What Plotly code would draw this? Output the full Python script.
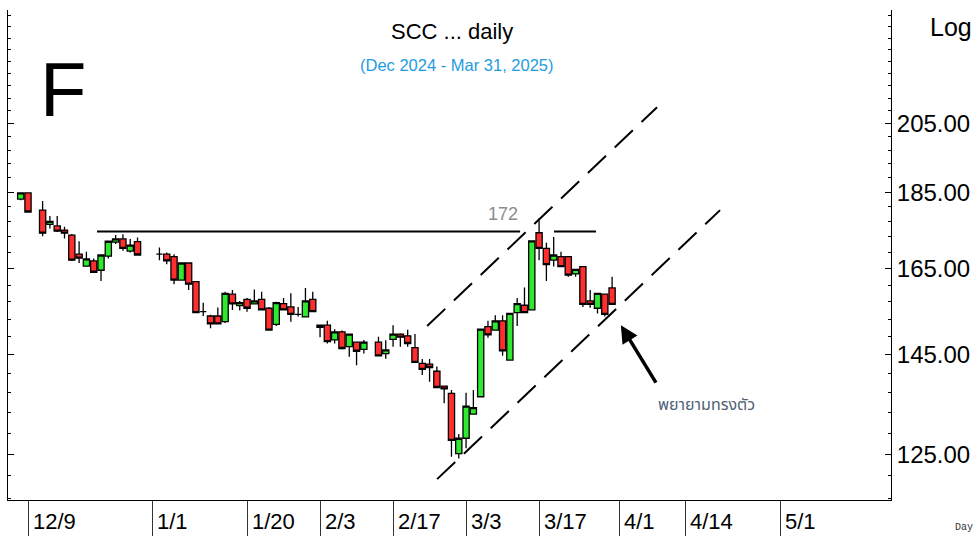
import numpy as np
import plotly.graph_objects as go

# ---------------- data ----------------
dates = ["2024-12-06", "2024-12-09", "2024-12-11", "2024-12-12", "2024-12-13", "2024-12-16",
         "2024-12-17", "2024-12-18", "2024-12-19", "2024-12-20", "2024-12-23", "2024-12-24",
         "2024-12-25", "2024-12-26", "2024-12-27", "2024-12-30", "2025-01-02", "2025-01-03",
         "2025-01-06", "2025-01-07", "2025-01-08", "2025-01-09", "2025-01-10", "2025-01-13",
         "2025-01-14", "2025-01-15", "2025-01-16", "2025-01-17", "2025-01-20", "2025-01-21",
         "2025-01-22", "2025-01-23", "2025-01-24", "2025-01-27", "2025-01-28", "2025-01-29",
         "2025-01-30", "2025-01-31", "2025-02-03", "2025-02-04", "2025-02-05", "2025-02-06",
         "2025-02-07", "2025-02-10", "2025-02-11", "2025-02-13", "2025-02-14", "2025-02-17",
         "2025-02-18", "2025-02-19", "2025-02-20", "2025-02-21", "2025-02-24", "2025-02-25",
         "2025-02-26", "2025-02-27", "2025-02-28", "2025-03-03", "2025-03-04", "2025-03-05",
         "2025-03-06", "2025-03-07", "2025-03-10", "2025-03-11", "2025-03-12", "2025-03-13",
         "2025-03-14", "2025-03-17", "2025-03-18", "2025-03-19", "2025-03-20", "2025-03-21",
         "2025-03-24", "2025-03-25", "2025-03-26", "2025-03-27", "2025-03-28", "2025-03-31"]

opens = [183.1, 184.8, 180.1, 176.3, 175.9, 174.8, 173.5, 168.6, 165.6, 166.9, 164.6, 168.1,
         171.7, 172.5, 169.4, 171.8, 168.6, 168.6, 168.0, 162.2, 166.4, 161.8, 154.7, 153.7,
         153.7, 152.4, 158.8, 156.1, 157.6, 156.5, 157.6, 155.5, 151.8, 156.6, 155.8, 154.1,
         153.5, 157.6, 151.1, 151.6, 148.3, 150.1, 146.8, 147.8, 146.2, 147.8, 145.3, 148.4,
         149.6, 149.2, 146.6, 143.2, 143.0, 141.5, 138.4, 136.9, 125.1, 128.0, 132.7, 136.2,
         151.3, 150.5, 152.6, 143.9, 154.5, 156.2, 155.1, 174.1, 170.1, 167.1, 168.0, 168.0,
         163.7, 165.5, 157.2, 155.5, 158.8, 160.3]
highs = [185.0, 184.9, 182.6, 178.5, 178.5, 175.7, 173.8, 171.9, 169.2, 167.5, 168.6, 172.0,
         173.5, 173.7, 172.5, 172.9, 170.3, 169.0, 168.6, 166.5, 166.5, 161.9, 156.8, 154.0,
         155.7, 159.4, 159.8, 157.2, 157.9, 159.9, 159.4, 155.8, 157.0, 157.9, 159.0, 155.8,
         160.3, 159.4, 151.7, 152.6, 150.7, 150.4, 149.7, 147.9, 148.3, 149.0, 148.2, 151.6,
         149.8, 150.6, 149.6, 144.1, 144.1, 142.5, 138.5, 137.6, 128.8, 137.0, 137.6, 150.8,
         152.6, 153.9, 153.9, 154.4, 157.9, 160.4, 172.1, 177.9, 171.5, 173.0, 169.2, 168.1,
         164.9, 165.6, 159.8, 159.1, 158.9, 163.0]
lows = [182.8, 179.5, 173.2, 175.2, 174.3, 172.6, 166.9, 166.4, 165.5, 164.0, 162.0, 167.5,
        171.2, 169.5, 169.0, 168.3, 167.1, 166.1, 161.2, 162.1, 159.8, 154.4, 153.7, 150.9,
        151.8, 152.1, 155.1, 155.0, 154.7, 156.4, 155.0, 150.4, 151.4, 155.0, 152.4, 153.6,
        153.4, 154.6, 148.9, 147.5, 147.5, 146.2, 144.6, 142.8, 145.3, 144.7, 144.2, 146.8,
        146.8, 146.8, 143.3, 140.7, 139.3, 138.0, 134.9, 124.5, 124.2, 126.1, 132.6, 136.1,
        148.8, 150.4, 144.8, 143.8, 151.4, 154.4, 155.0, 167.1, 162.0, 165.5, 165.5, 163.0,
        163.0, 155.8, 155.6, 154.3, 153.6, 156.3]
closes = [184.8, 179.6, 174.0, 177.1, 174.5, 174.0, 167.1, 167.6, 167.4, 164.1, 168.4, 171.9,
          172.5, 170.1, 170.9, 168.4, 168.6, 166.9, 162.2, 166.4, 161.2, 154.5, 154.7, 151.9,
          151.9, 159.0, 156.5, 156.8, 155.5, 157.2, 155.1, 150.5, 156.8, 155.1, 154.1, 154.1,
          157.2, 154.7, 151.6, 147.9, 150.1, 146.4, 149.6, 145.8, 147.8, 144.8, 146.1, 149.6,
          148.9, 147.5, 143.4, 141.9, 142.3, 138.1, 137.8, 127.6, 128.0, 134.3, 134.0, 150.7,
          149.4, 152.6, 145.9, 154.3, 156.6, 154.5, 172.0, 170.1, 166.0, 168.4, 165.5, 163.4,
          164.8, 156.4, 156.4, 159.0, 154.1, 156.4]

tick_dates = ["2024-12-09", "2025-01-01", "2025-01-20", "2025-02-03", "2025-02-17",
              "2025-03-03", "2025-03-17", "2025-04-01", "2025-04-14", "2025-05-01"]
tick_labels = ["12/9", "1/1", "1/20", "2/3", "2/17", "3/3", "3/17", "4/1", "4/14", "5/1"]

y_major = [125, 145, 165, 185, 205]

# drawn lines (x in trading-day slots from 12/9, y in price)
resist_level = 174.4
resist_seg1 = [9.45, 67.4]
resist_seg2 = [72.05, 77.8]
chan_up_x = [54.66, 86.16]
chan_up_y = [151.4, 210.1]
chan_lo_x = [56.03, 94.79]
chan_lo_y = [120.4, 180.1]

# ---------------- figure ----------------
BASE = "2024-12-09"
x = np.busday_count(BASE, np.array(dates, dtype="datetime64[D]"))
tick_x = np.busday_count(BASE, np.array(tick_dates, dtype="datetime64[D]"))

RED = "#ff2e2e"
GREEN = "#2fe82f"

fig = go.Figure()
fig.add_trace(go.Candlestick(
    x=x, open=opens, high=highs, low=lows, close=closes,
    increasing=dict(fillcolor=GREEN, line=dict(color="black", width=1.3)),
    decreasing=dict(fillcolor=RED, line=dict(color="black", width=1.3)),
    whiskerwidth=0, showlegend=False, hoverinfo="skip"))

line_kw = dict(mode="lines", showlegend=False, hoverinfo="skip")
for seg in (resist_seg1, resist_seg2):
    fig.add_trace(go.Scatter(x=seg, y=[resist_level, resist_level],
                             line=dict(color="black", width=2), **line_kw))
fig.add_trace(go.Scatter(x=chan_up_x, y=chan_up_y,
                         line=dict(color="black", width=2, dash="25px,12px"), **line_kw))
fig.add_trace(go.Scatter(x=chan_lo_x, y=chan_lo_y,
                         line=dict(color="black", width=2, dash="25px,12px"), **line_kw))

W, H = 976, 536
L, R, T, B = 8, 85, 10, 36
PW, PH = W - L - R, H - T - B


def px(xp):
    return (xp - L) / PW


def py(yp):
    return (H - B - yp) / PH


AXF = "Liberation Sans, Arial"
ARIAL = "Liberation Sans, Arial"


def label(xp, yp, text, font):
    return dict(x=px(xp), y=py(yp), xref="paper", yref="paper", text=text,
                xanchor="center", yanchor="middle", showarrow=False, font=font)


ann = [
    label(452, 32, "SCC ... daily", dict(family=ARIAL, size=22, color="black")),
    label(457, 65, "(Dec 2024 - Mar 31, 2025)", dict(family=ARIAL, size=16.5, color="#1e9be0")),
    label(63, 90, "F", dict(family=ARIAL, size=76, color="black")),
    label(503, 214, "172", dict(family=ARIAL, size=18, color="#8c8c8c")),
    label(706, 405, "พยายามทรงตัว",
          dict(family="Noto Sans Thai, Noto Sans, sans-serif", size=16, color="#4f5f75")),
    label(951, 27, "Log", dict(family=AXF, size=25, color="black")),
    label(964, 527, "Day", dict(family="Liberation Mono, DejaVu Sans Mono, monospace",
                                size=10, color="#333333")),
    dict(x=81.2, y=np.log10(151.6), xref="x", yref="y", text="", showarrow=True,
         ax=36, ay=59, arrowhead=2, arrowsize=1, arrowwidth=3.5, arrowcolor="black"),
]
for tx, tl in zip(tick_x, tick_labels):
    ann.append(dict(x=float(tx), y=py(521), xref="x", yref="paper", text=tl,
                    xanchor="left", yanchor="middle", xshift=3, showarrow=False,
                    font=dict(family=AXF, size=22, color="black")))

minor_vals = [v for v in range(117, 244, 4) if v not in y_major]

fig.update_layout(
    width=W, height=H,
    margin=dict(l=L, r=R, t=T, b=B, autoexpand=False),
    paper_bgcolor="white", plot_bgcolor="white",
    boxgap=0.15, boxgroupgap=0,
    annotations=ann,
    xaxis=dict(range=[-2.74, 118.2], showgrid=False, zeroline=False, automargin=False,
               showline=True, linecolor="black", linewidth=1,
               tickvals=tick_x, ticktext=[""] * len(tick_x), ticks="outside",
               ticklen=36, tickcolor="#333333", tickwidth=1,
               rangeslider=dict(visible=False)),
    yaxis=dict(type="log", side="right", range=[np.log10(116.7), np.log10(243.0)],
               showgrid=False, zeroline=False, showline=True, linecolor="black",
               automargin=False,
               linewidth=1, mirror="ticks", ticks="inside", ticklen=6, tickcolor="black",
               tickvals=y_major, ticktext=[f"{v:.2f}" for v in y_major],
               tickfont=dict(family=AXF, size=24, color="black"),
               minor=dict(tickvals=minor_vals, ticks="inside", ticklen=3,
                          tickcolor="black")),
)

fig.write_html("out.html", config={"displayModeBar": False},
               post_script="document.body.style.margin='0';")
